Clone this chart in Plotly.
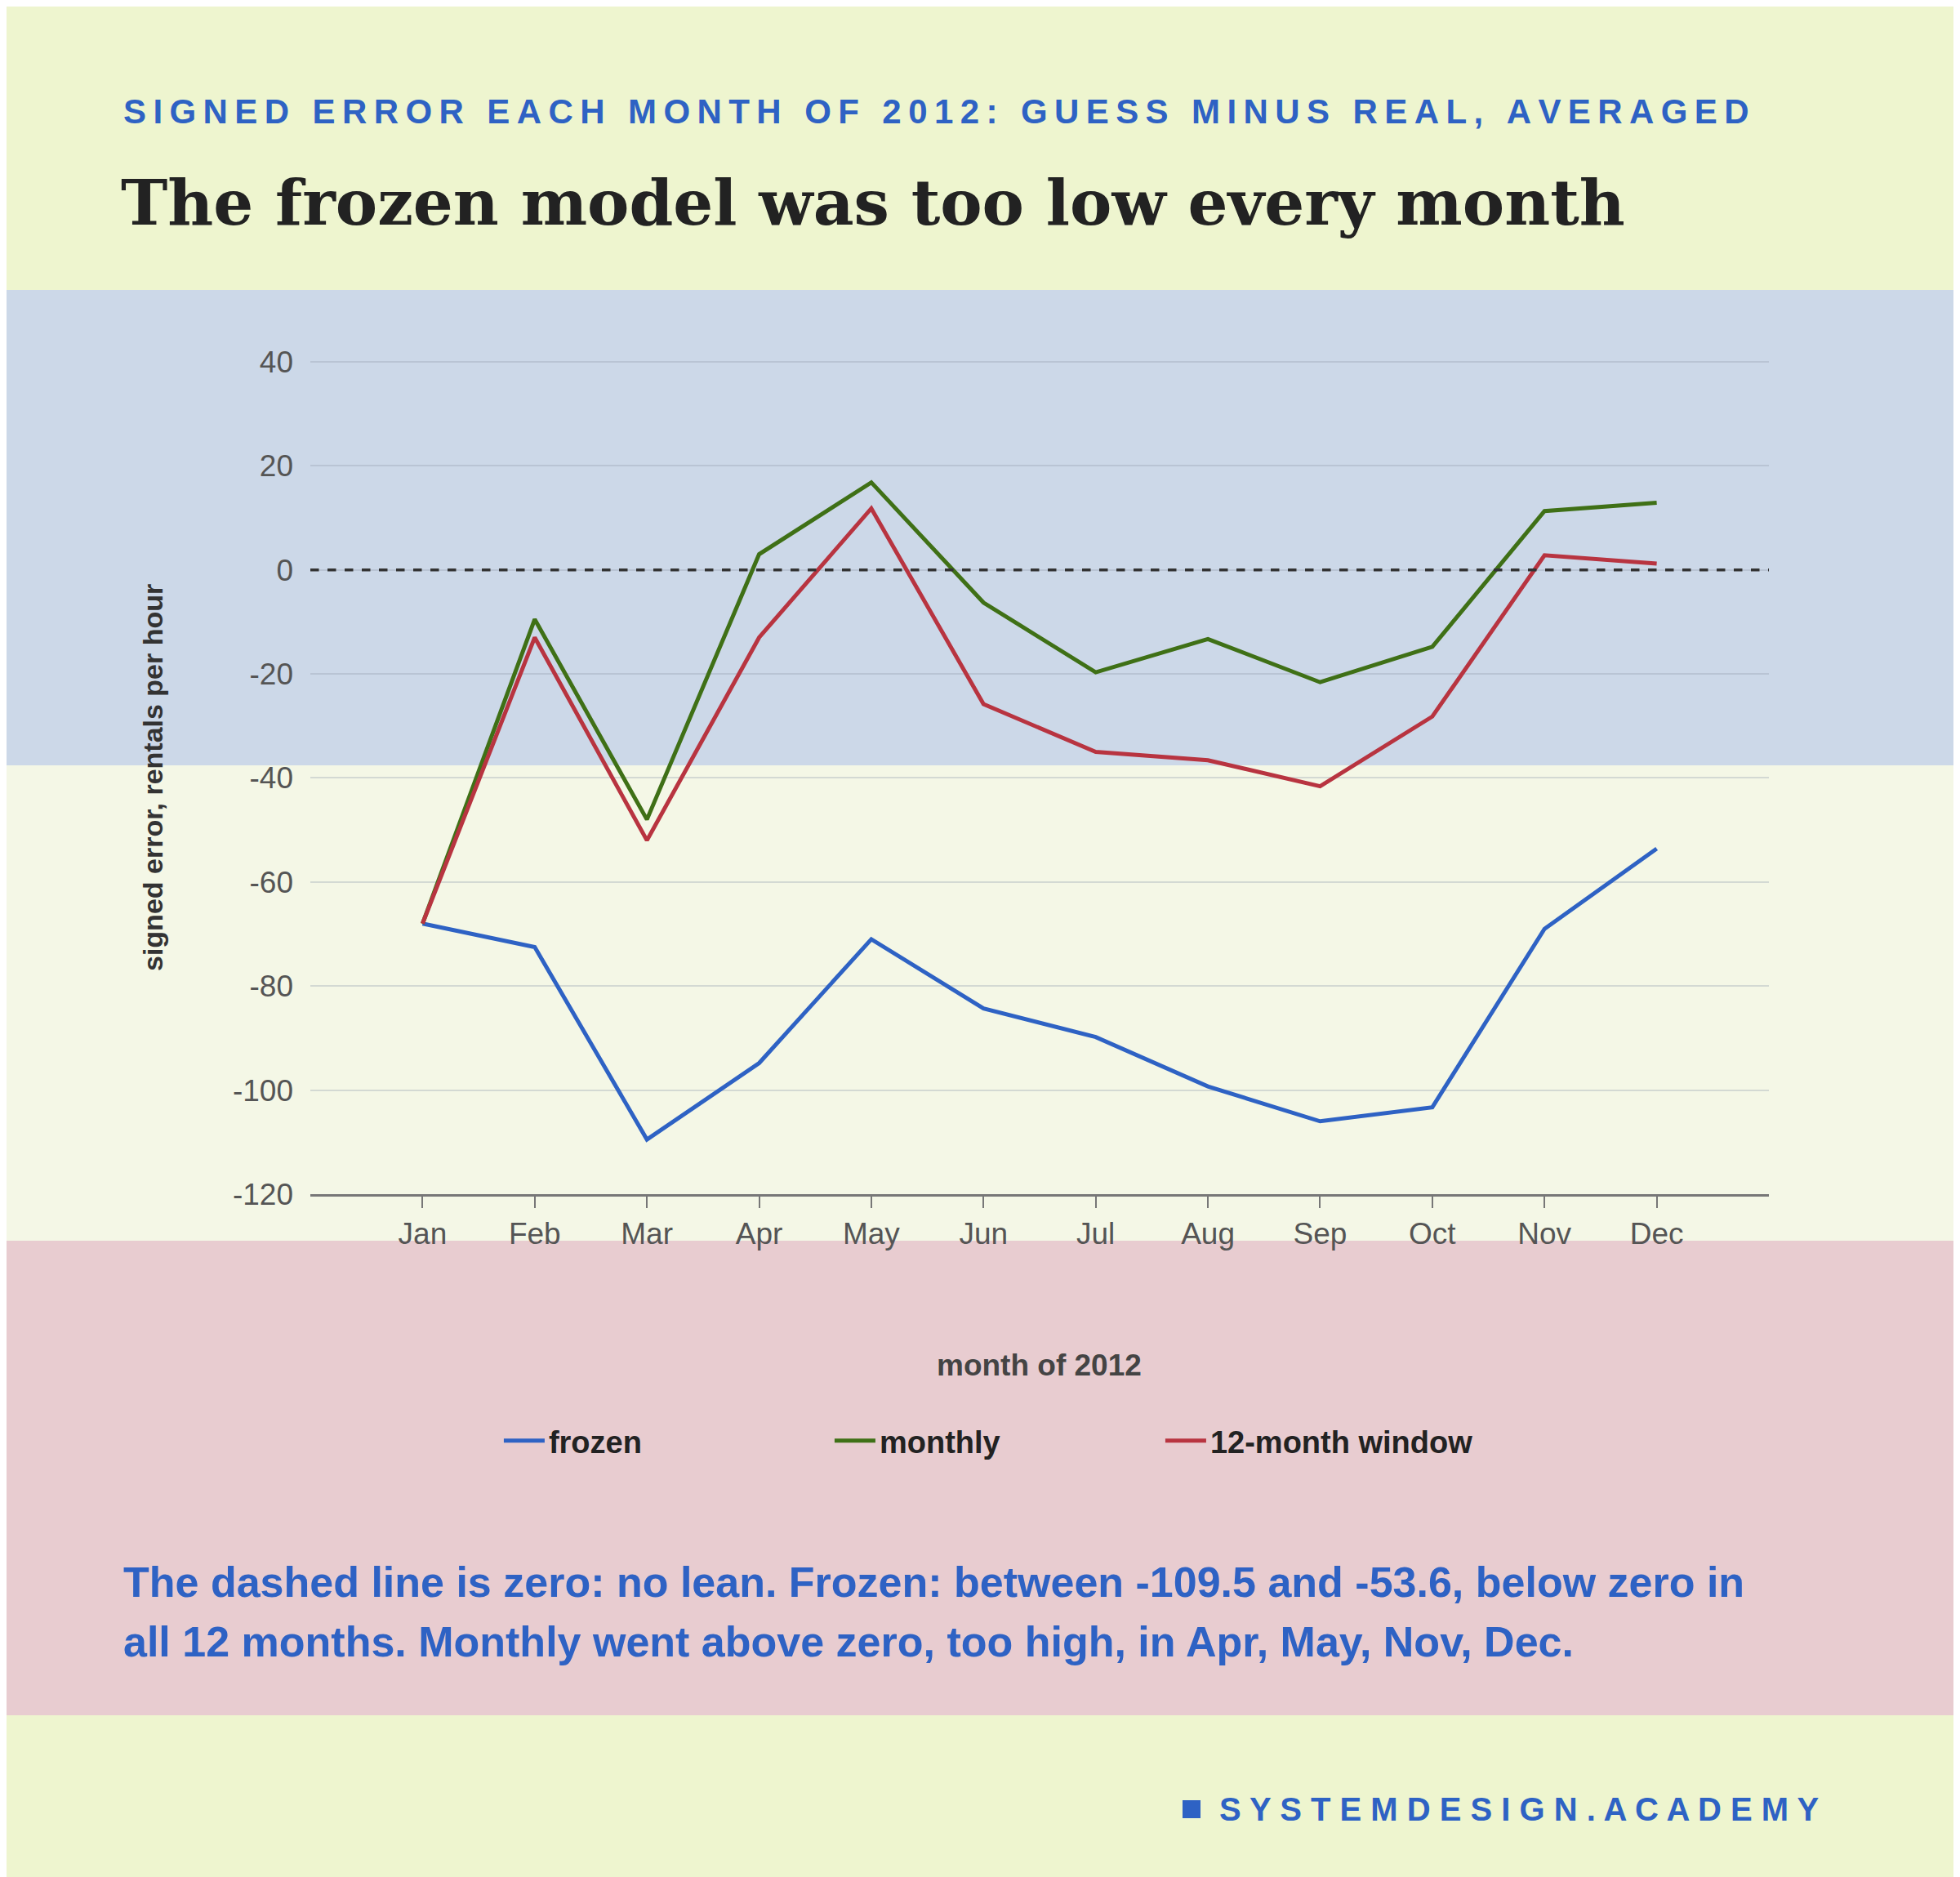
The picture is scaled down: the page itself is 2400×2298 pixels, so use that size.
import plotly.graph_objects as go

months = ["Jan","Feb","Mar","Apr","May","Jun","Jul","Aug","Sep","Oct","Nov","Dec"]
frozen = [-68, -72.5, -109.5, -94.8, -71, -84.3, -89.8, -99.3, -106, -103.3, -69, -53.6]
monthly = [-68, -9.5, -48, 3, 16.8, -6.3, -19.7, -13.3, -21.6, -14.8, 11.3, 12.9]
window12 = [-68, -13, -52, -13, 11.8, -25.8, -35, -36.6, -41.6, -28.2, 2.8, 1.2]
yticks = [40, 20, 0, -20, -40, -60, -80, -100, -120]

W, Hh = 2400, 2298
L, R, T, B = 372, 242, 403, 844
PW, PH = W - L - R, Hh - T - B
def py(Y): return (Hh - B - Y) / PH
def px(X): return (X - L) / PW

def spaced(s):
    return "\u2009".join(s)

fig = go.Figure()
x = list(range(12))
for name, vals, col in [("frozen", frozen, "#2e62c4"), ("monthly", monthly, "#3f7016"), ("12-month window", window12, "#b83440")]:
    fig.add_trace(go.Scatter(x=x, y=vals, name=f"<b>{name}</b>", mode="lines", line=dict(color=col, width=5)))

shapes = []
for y0, y1, c in [(-20, 347, "#eef5cf"), (347, 929, "#ccd8e8"), (929, 1511, "#f4f7e6"), (1511, 2092, "#e8ccd0"), (2092, 2320, "#eef5cf")]:
    shapes.append(dict(type="rect", xref="paper", yref="paper", x0=px(-20), x1=px(W + 20), y0=py(y1), y1=py(y0),
                       fillcolor=c, line=dict(width=0), layer="below"))
shapes.append(dict(type="line", xref="paper", yref="y", x0=0, x1=1, y0=0, y1=0, line=dict(color="#333", width=3.5, dash="dash")))
shapes.append(dict(type="rect", xref="paper", yref="paper", x0=px(1440), x1=px(1462), y0=py(2218), y1=py(2196),
                   fillcolor="#2e62c4", line=dict(width=0)))

ann = [
    dict(text="<b>" + spaced("SIGNED ERROR EACH MONTH OF 2012: GUESS MINUS REAL, AVERAGED") + "</b>", x=px(141), y=py(128),
         xanchor="left", yanchor="middle", font=dict(family="Liberation Sans", size=42, color="#2e62c4")),
    dict(text="<b>The frozen model was too low every month</b>", x=px(138), y=py(240), xanchor="left", yanchor="middle",
         font=dict(family="DejaVu Serif", size=77, color="#222")),
    dict(text="<b>signed error, rentals per hour</b>", x=px(179), y=py(944), textangle=-90, xanchor="center", yanchor="middle",
         font=dict(family="Liberation Sans", size=34, color="#333")),
    dict(text="<b>month of 2012</b>", x=px(1264), y=py(1664), xanchor="center", yanchor="middle",
         font=dict(family="Liberation Sans", size=37, color="#444")),
    dict(text="<b>The dashed line is zero: no lean. Frozen: between -109.5 and -53.6, below zero in</b>", x=px(141), y=py(1929),
         xanchor="left", yanchor="middle", font=dict(family="Liberation Sans", size=52, color="#2e62c4")),
    dict(text="<b>all 12 months. Monthly went above zero, too high, in Apr, May, Nov, Dec.</b>", x=px(141), y=py(2002),
         xanchor="left", yanchor="middle", font=dict(family="Liberation Sans", size=52, color="#2e62c4")),
    dict(text="<b>S Y S T E M D E S I G N . A C A D E M Y</b>", x=px(1483), y=py(2207), xanchor="left", yanchor="middle",
         font=dict(family="Liberation Sans", size=40, color="#2e62c4")),
]
for a in ann:
    a.update(xref="paper", yref="paper", showarrow=False)

fig.update_layout(
    width=W, height=Hh, margin=dict(l=L, r=R, t=T, b=B),
    paper_bgcolor="#eef5cf", plot_bgcolor="rgba(0,0,0,0)",
    shapes=shapes, annotations=ann,
    xaxis=dict(range=[-1, 12], tickvals=x, ticktext=months, showgrid=False, zeroline=False,
               showline=True, linecolor="#777", linewidth=3, ticks="outside", tickcolor="#777", ticklen=14, tickwidth=2,
               tickfont=dict(family="Liberation Sans", size=37, color="#555")),
    yaxis=dict(range=[-120, 45], tickvals=yticks, ticktext=[str(v) for v in yticks], showgrid=True,
               gridcolor="rgba(150,160,175,0.35)", gridwidth=2,
               zeroline=False, tickfont=dict(family="Liberation Sans", size=37, color="#555"), ticklabelstandoff=20),
    legend=dict(orientation="h", x=0.47, xanchor="center", y=py(1756), yanchor="middle",
                font=dict(family="Liberation Sans", size=38, color="#222"), entrywidth=340, bgcolor="rgba(0,0,0,0)",
                itemwidth=50),
)
fig.write_html("out.html")
